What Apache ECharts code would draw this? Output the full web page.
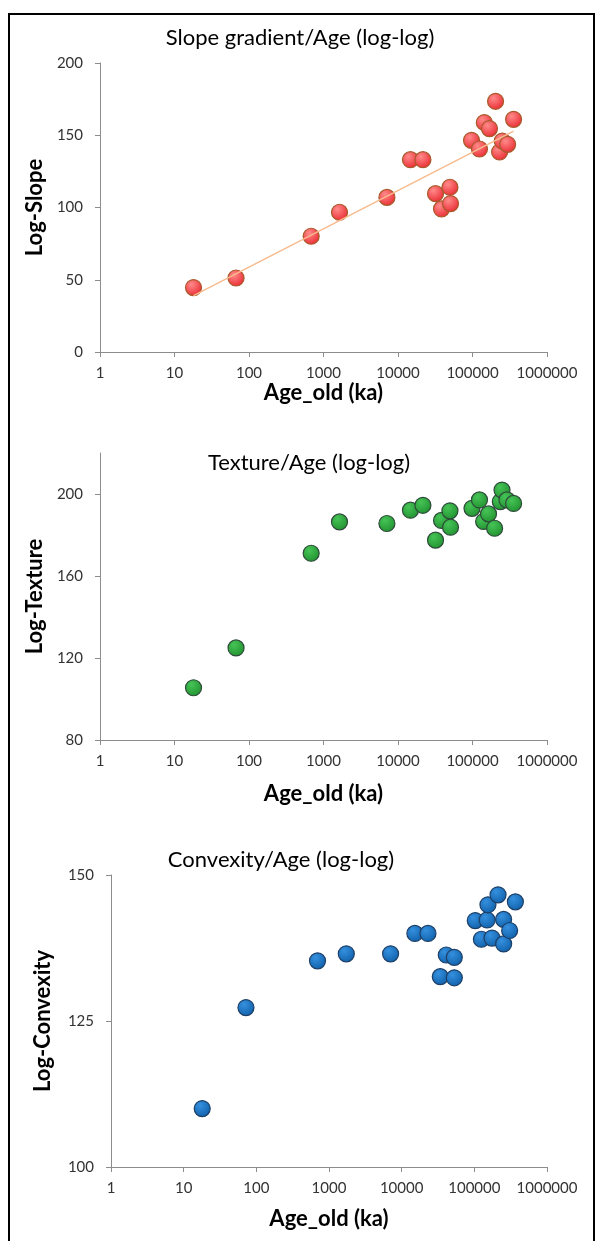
<!DOCTYPE html>
<html>
<head>
<meta charset="utf-8">
<script src="https://cdn.jsdelivr.net/npm/echarts@6/dist/echarts.min.js"></script>
<style>
  html, body { margin: 0; padding: 0; background: #fff; }
  #chart { width: 595px; height: 1241px; }
</style>
</head>
<body>
<div id="chart"></div>
<script>
// Sample ages (ka) and log-transformed morphometric indices
const slopeAge = [18, 67, 683, 1640, 7100, 14700, 21600, 31900, 38400, 49800, 50700, 97000, 124000, 144000, 169000, 204000, 231000, 251000, 296000, 356000];
const slopeVal = [44.6, 51.2, 80.1, 96.7, 107, 133.1, 133.1, 109.6, 99, 114, 102.7, 146.5, 140.5, 158.8, 154.6, 173.5, 138.4, 146, 143.7, 161];

const textureAge = [18, 67, 683, 1640, 7100, 14700, 21600, 31900, 38400, 49800, 50700, 98400, 124000, 141000, 164000, 198000, 236000, 249000, 290000, 356000];
const textureVal = [105.5, 124.9, 171.1, 186.4, 185.6, 192.1, 194.5, 177.5, 187.1, 191.8, 183.8, 193.0, 197.1, 186.6, 190.3, 183.3, 196.3, 201.9, 197.1, 195.4];

const convexAge = [18, 72, 695, 1730, 7040, 15200, 23000, 34000, 41100, 53000, 53000, 103000, 125000, 150000, 154000, 175000, 212000, 253000, 253000, 306000, 367000];
const convexVal = [110, 127.3, 135.3, 136.5, 136.5, 140.0, 140.0, 132.6, 136.3, 135.9, 132.4, 142.2, 139.0, 142.3, 144.9, 139.2, 146.6, 142.4, 138.2, 140.5, 145.4];

const titles = ['Slope gradient/Age (log-log)', 'Texture/Age (log-log)', 'Convexity/Age (log-log)'];
const yNames = ['Log-Slope', 'Log-Texture', 'Log-Convexity'];
const xName = 'Age_old (ka)';
const slopeTicks = [0, 50, 100, 150, 200];
const textureTicks = [80, 120, 160, 200];
const convexTicks = [100, 125, 150];

const FONT = 'Lato, "Open Sans", sans-serif';

function pairs(xs, ys) { return xs.map((x, i) => [x, ys[i]]); }

// Least-squares fit of value against log10(age), drawn over the age range
function logTrend(xs, ys) {
  const lx = xs.map(v => Math.log10(v));
  const n = lx.length;
  const mx = lx.reduce((a, b) => a + b, 0) / n;
  const my = ys.reduce((a, b) => a + b, 0) / n;
  let sxy = 0, sxx = 0;
  for (let i = 0; i < n; i++) { sxy += (lx[i] - mx) * (ys[i] - my); sxx += (lx[i] - mx) * (lx[i] - mx); }
  const b = sxy / sxx, a = my - b * mx;
  const x0 = Math.min(...xs), x1 = Math.max(...xs);
  return [[x0, a + b * Math.log10(x0)], [x1, a + b * Math.log10(x1)]];
}

function ball(light, dark) {
  return { type: 'radial', x: 0.38, y: 0.32, r: 0.75,
    colorStops: [{ offset: 0, color: light }, { offset: 1, color: dark }] };
}

const grids = [
  { left: 100, right: 48, top: 63, height: 289 },
  { left: 100, right: 48, top: 453, height: 287 },
  { left: 111, right: 48, top: 875, height: 292 }
];

function xAxis(i, gap) {
  return {
    gridIndex: i, type: 'log', logBase: 10, min: 1, max: 1000000,
    name: xName, nameLocation: 'middle', nameGap: gap,
    nameTextStyle: { fontFamily: FONT, fontSize: 22, fontWeight: 'bold', color: '#000' },
    axisLine: { lineStyle: { color: '#8c8c8c', width: 1 } },
    axisTick: { show: true, length: 5, lineStyle: { color: '#8c8c8c' } },
    minorTick: { show: false },
    splitLine: { show: false },
    axisLabel: { fontFamily: FONT, fontSize: 15, color: '#333', margin: 14,
      formatter: v => String(Math.round(v)) }
  };
}

function yAxis(i, name, min, max, ticks, gap) {
  return {
    gridIndex: i, type: 'value', min: min, max: max,
    name: name, nameLocation: 'middle', nameGap: gap, nameRotate: 90,
    nameTextStyle: { fontFamily: FONT, fontSize: 22, fontWeight: 'bold', color: '#000' },
    axisLine: { show: true, lineStyle: { color: '#8c8c8c', width: 1 } },
    axisTick: { show: true, length: 5, customValues: ticks, lineStyle: { color: '#8c8c8c' } },
    splitLine: { show: false },
    axisLabel: { fontFamily: FONT, fontSize: 15, color: '#333', margin: 17, customValues: ticks }
  };
}

function scatter(i, data, light, dark, border) {
  return {
    type: 'scatter', xAxisIndex: i, yAxisIndex: i, data: data,
    symbol: 'circle', symbolSize: 16, z: 2,
    itemStyle: { color: ball(light, dark), borderColor: border, borderWidth: 1.2, opacity: 1 }
  };
}

const titleY = [38, 463, 860];
const titleX = [300, 309, 281];

const chart = echarts.init(document.getElementById('chart'), null, { renderer: 'canvas' });
chart.setOption({
  animation: false,
  backgroundColor: '#fff',
  grid: grids,
  xAxis: [xAxis(0, 28), xAxis(1, 43), xAxis(2, 41)],
  yAxis: [
    yAxis(0, yNames[0], 0, 200, slopeTicks, 52),
    yAxis(1, yNames[1], 80, 220, textureTicks, 52),
    yAxis(2, yNames[2], 100, 150, convexTicks, 57)
  ],
  series: [
    scatter(0, pairs(slopeAge, slopeVal), '#ff8a8a', '#e8262e', '#a85a2a'),
    {
      type: 'line', xAxisIndex: 0, yAxisIndex: 0, data: logTrend(slopeAge, slopeVal),
      showSymbol: false, symbol: 'none', z: 3, silent: true,
      lineStyle: { color: '#f7bb8e', width: 1.5 }
    },
    scatter(1, pairs(textureAge, textureVal), '#46c456', '#1f8f2e', '#2e4a3a'),
    scatter(2, pairs(convexAge, convexVal), '#3590de', '#0e5ea8', '#1d3f66')
  ],
  graphic: [
    { type: 'rect', shape: { x: 9, y: 14, width: 585, height: 1260 },
      style: { fill: 'none', stroke: '#000', lineWidth: 2 }, z: 10 }
  ].concat(titles.map((t, i) => ({
    type: 'text', x: titleX[i], y: titleY[i], z: 10,
    style: { text: t, fontFamily: FONT, fontSize: 22, fill: '#000',
      textAlign: 'center', textVerticalAlign: 'middle' }
  })))
});
</script>
</body>
</html>
